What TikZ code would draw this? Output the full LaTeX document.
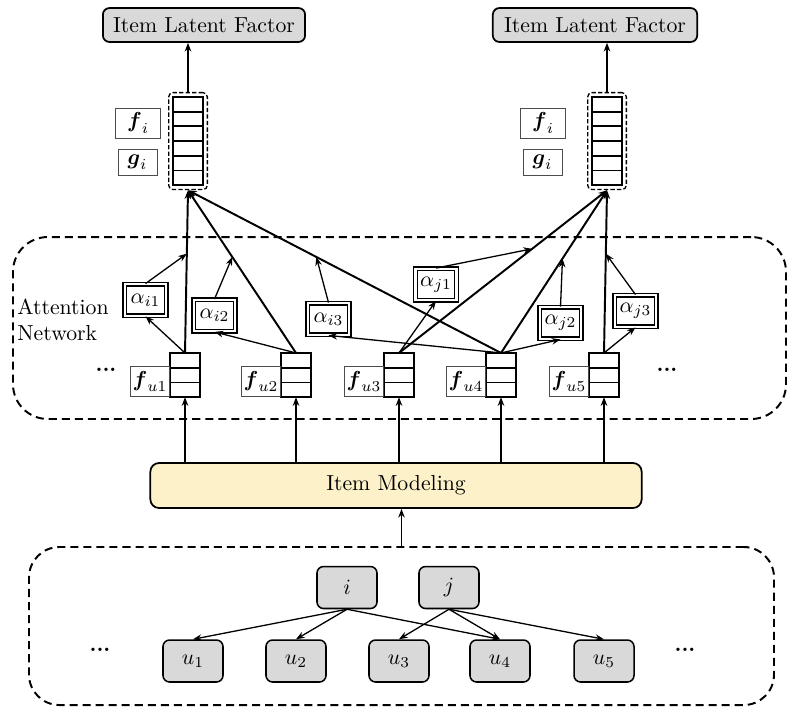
\documentclass[tikz,border=0pt]{standalone}
\usepackage{amsmath}
\usepackage{amssymb}
\usepackage{xcolor}
\usetikzlibrary{arrows.meta, positioning, calc, fit}
\definecolor{modfill}{RGB}{253,241,201}
\definecolor{nodegray}{RGB}{217,217,217}

\begin{document}
\begin{tikzpicture}[
    x=0.46pt, y=-0.46pt,
    box/.style={draw, line width=0.7pt, rounded corners=3pt, fill=nodegray, inner sep=0pt},
    cell/.style={draw, line width=0.8pt, minimum width=13.8pt, minimum height=6.8pt, inner sep=0pt, outer sep=0pt},
    tag/.style={draw=black!70, line width=0.4pt, minimum height=13.8pt, inner sep=1pt},
    weight/.style={draw, double, double distance=1.1pt, line width=0.6pt, minimum width=19pt, minimum height=14.5pt, inner sep=0pt},
    region/.style={draw, line width=0.9pt, dash pattern=on 3.7pt off 2.3pt},
    wrap/.style={draw, line width=0.6pt, dash pattern=on 2pt off 1pt, rounded corners=2pt, inner sep=2pt},
    arrow/.style={-{Stealth[length=4pt,width=3pt]}, line width=0.6pt},
    feed/.style={-{Stealth[length=4pt,width=3pt]}, line width=0.9pt}
]
\useasboundingbox (0,0) rectangle (787,708);

% Item latent factors
\node[box, line width=0.8pt, minimum width=93pt, minimum height=15.6pt] (ilfL) at (204,25) {Item Latent Factor};
\node[box, line width=0.8pt, minimum width=94pt, minimum height=15.6pt] (ilfR) at (595,25) {Item Latent Factor};

% Item vectors
\foreach \k in {1,...,6} {
  \node[cell] (sL\k) at (188, 89.65+14.7*\k) {};
  \node[cell] (sR\k) at (607, 89.65+14.7*\k) {};
}
\node[wrap, fit=(sL1)(sL6)] (stackL) {};
\node[wrap, fit=(sR1)(sR6)] (stackR) {};
\node[tag, minimum width=21pt] (fiL) at (138,123) {$\boldsymbol{f}_i$};
\node[tag, minimum width=18pt, minimum height=12pt] (giL) at (137.5,162) {$\boldsymbol{g}_i$};
\node[tag, minimum width=21pt] (fiR) at (543,123) {$\boldsymbol{f}_i$};
\node[tag, minimum width=18pt, minimum height=12pt] (giR) at (542.5,162) {$\boldsymbol{g}_i$};

% Attention network
\node[region, rounded corners=16pt, minimum width=355.6pt, minimum height=83.7pt] (att) at (399.5,328) {};
\node[anchor=west, align=left, inner sep=0pt] (attlab) at (17,320) {Attention\\Network};

% User vectors
\foreach \n/\x in {1/185, 2/296, 3/399, 4/501, 5/604} {
  \foreach \k in {1,2,3}
    \node[cell] (fu\n-\k) at (\x, 345.65+14.7*\k) {};
  \node[tag, anchor=south east, minimum width=17.5pt] (lab\n) at (fu\n-3.south west) {$\boldsymbol{f}_{u\n}$};
}
\node (dotsA) at (106,370) {\textbf{...}};
\node (dotsB) at (667,370) {\textbf{...}};

% Attention weights
\node[weight] (ai1) at (145.5,300) {$\alpha_{i1}$};
\node[weight] (ai2) at (214.5,315.5) {$\alpha_{i2}$};
\node[weight] (ai3) at (328.5,319) {$\alpha_{i3}$};
\node[weight] (aj1) at (436,284.5) {$\alpha_{j1}$};
\node[weight] (aj2) at (560.5,323) {$\alpha_{j2}$};
\node[weight] (aj3) at (635.5,311) {$\alpha_{j3}$};

% Item modeling
\node[draw, line width=0.8pt, rounded corners=4pt, fill=modfill, minimum width=226pt, minimum height=20.7pt] (imod) at (396,485.5) {Item Modeling};

% User-item graph
\node[region, rounded corners=14pt, minimum width=342.7pt, minimum height=72.7pt] (graph) at (401.5,626) {};
\node[box, minimum width=27.6pt, minimum height=19.3pt] (i) at (347,587.5) {$i$};
\node[box, minimum width=27.6pt, minimum height=19.3pt] (j) at (449,587.5) {$j$};
\foreach \n/\x in {1/193, 2/296, 3/399, 4/500, 5/604}
  \node[box, minimum width=27.6pt, minimum height=19.3pt] (u\n) at (\x,661) {$u_{\n}$};
\node (dotsC) at (100,650) {\textbf{...}};
\node (dotsD) at (685,650) {\textbf{...}};

% Arrows
\foreach \n in {1,2,4} \draw[arrow] (i.south) -- (u\n.north);
\foreach \n in {3,4,5} \draw[arrow] (j.south) -- (u\n.north);
\draw[feed] (graph.north) -- (graph.north |- imod.south);
\foreach \n in {1,...,5} \draw[feed] (fu\n-3.south |- imod.north) -- (fu\n-3.south);
\foreach \n in {1,2,4} \draw[feed] (fu\n-1.north) -- (stackL.south);
\foreach \n in {3,4,5} \draw[feed] (fu\n-1.north) -- (stackR.south);
\foreach \a/\u/\s/\t in {i1/1/L/0.61, i2/2/L/0.59, i3/4/L/0.59, j1/3/R/0.64, j2/4/R/0.58, j3/5/R/0.61} {
  \coordinate (p\a) at ($(fu\u-1.north)!\t!(stack\s.south)$);
  \draw[arrow] (fu\u-1.north) -- (a\a.south);
  \draw[arrow] (a\a.north) -- (p\a);
}
\draw[feed] (stackL.north) -- (stackL.north |- ilfL.south);
\draw[feed] (stackR.north) -- (stackR.north |- ilfR.south);

\end{tikzpicture}
\end{document}
